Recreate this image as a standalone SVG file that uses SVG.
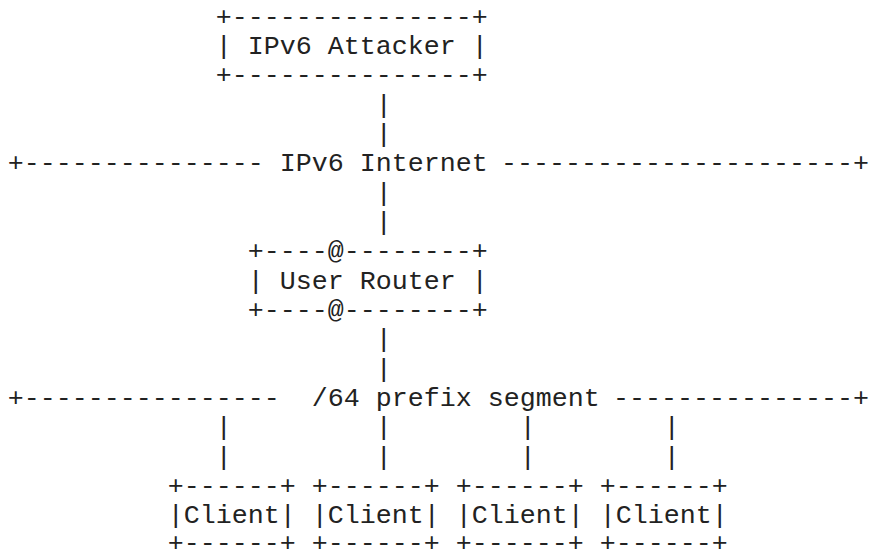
<svg xmlns="http://www.w3.org/2000/svg" width="869" height="552" viewBox="0 0 869 552" xml:space="preserve">
<style>
text { font-family: "Liberation Mono", "Courier New", monospace; font-size: 26.67px; fill: #222222; white-space: pre; }
</style>
<rect width="869" height="552" fill="#ffffff"/>
<g id="attacker">
<text x="215.8" y="24.5">+---------------+</text>
<text x="215.8" y="53.8">| IPv6 Attacker |</text>
<text x="215.8" y="83.2">+---------------+</text>
</g>
<g id="internet">
<text x="7.8" y="171.2">+---------------</text>
<text x="279.8" y="171.2">IPv6 Internet</text>
<text x="501" y="171.2">----------------------+</text>
</g>
<g id="user-router">
<text x="247.8" y="259.1">+----@--------+</text>
<text x="247.8" y="288.5">| User Router |</text>
<text x="247.8" y="317.8">+----@--------+</text>
</g>
<g id="prefix-segment">
<text x="7.8" y="405.8">+----------------</text>
<text x="311.8" y="405.8">/64 prefix segment</text>
<text x="613" y="405.8">---------------+</text>
</g>
<g id="client-1">
<text x="167.8" y="493.8">+------+</text>
<text x="167.8" y="523.1">|Client|</text>
<text x="167.8" y="550.5">+------+</text>
</g>
<g id="client-2">
<text x="311.8" y="493.8">+------+</text>
<text x="311.8" y="523.1">|Client|</text>
<text x="311.8" y="550.5">+------+</text>
</g>
<g id="client-3">
<text x="455.8" y="493.8">+------+</text>
<text x="455.8" y="523.1">|Client|</text>
<text x="455.8" y="550.5">+------+</text>
</g>
<g id="client-4">
<text x="599.8" y="493.8">+------+</text>
<text x="599.8" y="523.1">|Client|</text>
<text x="599.8" y="550.5">+------+</text>
</g>
<g id="connectors">
<text x="375.8" y="112.5">|</text>
<text x="375.8" y="141.8">|</text>
<text x="375.8" y="200.5">|</text>
<text x="375.8" y="229.8">|</text>
<text x="375.8" y="347.1">|</text>
<text x="375.8" y="376.5">|</text>
<text x="215.8" y="435.1">|</text>
<text x="215.8" y="464.5">|</text>
<text x="375.8" y="435.1">|</text>
<text x="375.8" y="464.5">|</text>
<text x="519.8" y="435.1">|</text>
<text x="519.8" y="464.5">|</text>
<text x="663.8" y="435.1">|</text>
<text x="663.8" y="464.5">|</text>
</g>
</svg>
